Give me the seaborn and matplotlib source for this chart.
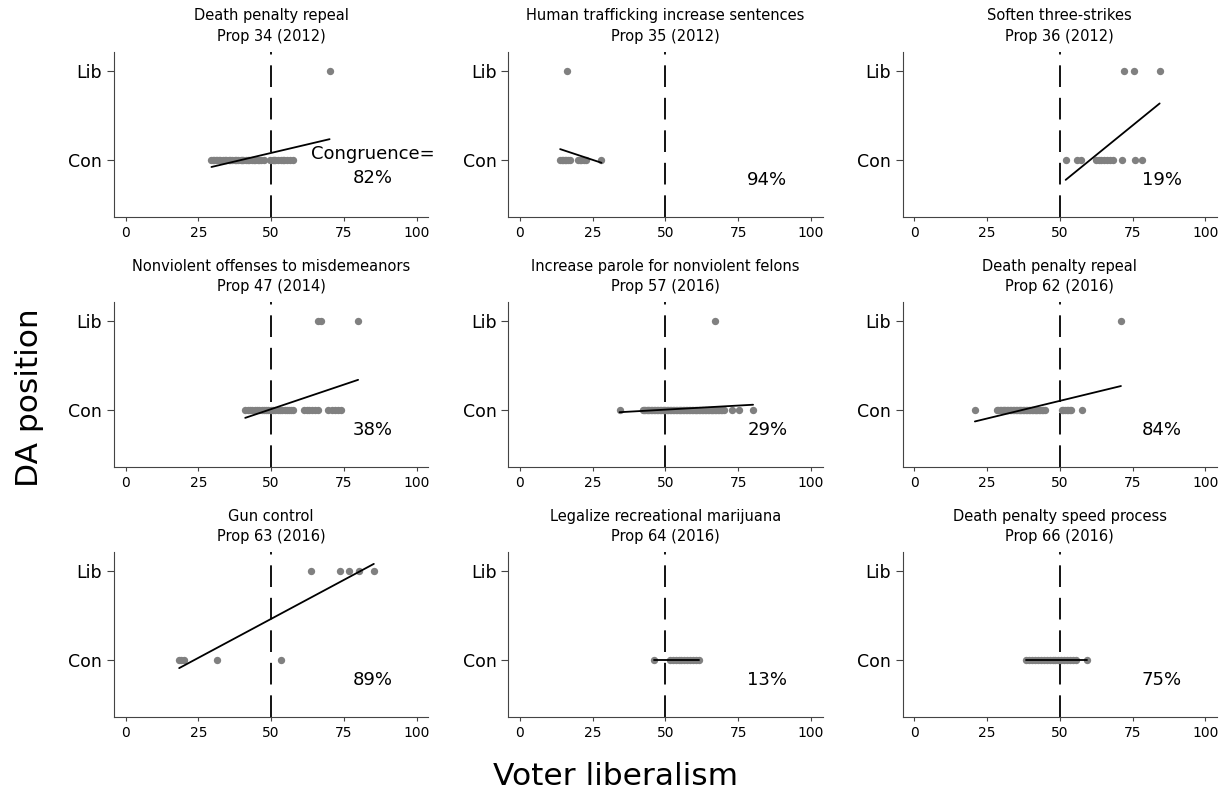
import pandas as pd
import matplotlib.pyplot as plt
import seaborn as sns

titles = ['Death penalty repeal\nProp 34 (2012)',
          'Human trafficking increase sentences\nProp 35 (2012)',
          'Soften three-strikes\nProp 36 (2012)',
          'Nonviolent offenses to misdemeanors\nProp 47 (2014)',
          'Increase parole for nonviolent felons\nProp 57 (2016)',
          'Death penalty repeal\nProp 62 (2016)',
          'Gun control\nProp 63 (2016)',
          'Legalize recreational marijuana\nProp 64 (2016)',
          'Death penalty speed process\nProp 66 (2016)']

congruence = ['82%', '94%', '19%', '38%', '29%', '84%', '89%', '13%', '75%']

# voter liberalism of counties whose DA took the conservative / liberal side
con_x = [
    [29.5, 30.0, 30.5, 31.0, 31.5, 32.0, 32.5, 33.5, 34.0, 34.5, 35.5, 36.0, 36.5, 37.5,
     38.0, 38.5, 39.5, 40.0, 40.5, 41.5, 42.0, 42.5, 43.5, 44.0, 44.5, 45.5, 46.0, 46.5,
     47.5, 49.5, 50.5, 51.0, 51.5, 52.5, 53.5, 54.0, 54.5, 55.5, 56.5, 57.5],
    [13.8, 14.3, 14.8, 15.3, 15.8, 16.5, 17.1, 20.0, 20.5, 21.0, 22.0, 22.7, 28.0],
    [52.0, 55.9, 57.2, 62.3, 63.3, 64.3, 65.3, 66.3, 67.3, 68.4, 71.5, 75.9, 78.2],
    [41.1, 41.9, 42.7, 43.5, 44.3, 45.1, 45.9, 46.7, 47.5, 48.3, 49.1, 49.9, 50.7,
     51.5, 52.3, 53.1, 53.9, 54.7, 55.5, 56.3, 57.0, 57.6, 61.3, 62.2, 63.1, 64.0,
     65.0, 66.0, 69.7, 70.8, 71.9, 73.0, 73.9],
    [34.2, 42.2, 42.6, 43.0, 43.5, 44.0, 44.5, 45.0, 45.5, 46.0, 46.5, 47.0, 47.5, 48.0,
     48.5, 49.0, 49.5, 50.0, 50.5, 51.0, 51.5, 52.0, 52.5, 53.0, 53.5, 54.0, 54.5, 55.0,
     55.5, 56.0, 56.5, 57.0, 57.5, 58.0, 58.5, 59.0, 59.5, 60.0, 60.5, 61.0, 61.5, 62.0,
     62.5, 63.0, 63.5, 64.0, 64.5, 65.0, 65.5, 66.0, 66.5, 67.0, 67.5, 68.0, 68.5, 69.0,
     69.5, 70.1, 72.8, 75.1, 80.1],
    [20.8, 28.3, 28.8, 29.3, 29.8, 30.3, 30.8, 31.3, 31.8, 32.3, 32.8, 33.3, 33.8, 34.3,
     34.8, 35.3, 35.8, 36.3, 36.8, 37.3, 37.8, 38.3, 38.8, 39.3, 39.8, 40.3, 40.8, 41.3,
     41.8, 42.3, 42.8, 43.3, 43.8, 44.3, 45.0, 50.6, 51.2, 51.7, 52.3, 52.8, 53.4, 53.9, 57.5],
    [18.4, 19.0, 20.0, 31.5, 53.5],
    [45.9, 51.4, 52.5, 53.5, 54.5, 55.5, 56.5, 57.5, 58.5, 59.5, 60.5, 61.5],
    [38.3, 39.5, 40.5, 41.5, 42.5, 43.5, 44.5, 45.5, 46.5, 47.5, 48.5, 49.5, 50.5,
     51.5, 52.5, 53.5, 54.5, 55.6, 59.5],
]
lib_x = [
    [70.1],
    [16.1],
    [72.1, 75.6, 84.3],
    [66.2, 67.0, 79.9],
    [67.1],
    [71.0],
    [63.8, 73.8, 76.9, 80.2, 85.3],
    [],
    [],
]

sns.set_style('ticks')
plt.rcParams['font.family'] = ['DejaVu Sans']
plt.rcParams['text.color'] = 'black'
plt.rcParams['xtick.color'] = 'black'
plt.rcParams['ytick.color'] = 'black'
plt.rcParams['axes.labelcolor'] = 'black'

fig, axes = plt.subplots(3, 3, figsize=(12.31, 7.95), dpi=100)
plt.subplots_adjust(left=0.0926, right=0.9886, top=0.9346, bottom=0.098,
                    wspace=0.255, hspace=0.515)

for i, ax in enumerate(axes.flat):
    df = pd.DataFrame({'x': con_x[i] + lib_x[i],
                       'y': [0] * len(con_x[i]) + [1] * len(lib_x[i])})
    sns.regplot(data=df, x='x', y='y', ax=ax, ci=None, truncate=True,
                scatter_kws={'color': 'gray', 's': 28, 'alpha': 1, 'linewidths': 0},
                line_kws={'color': 'black', 'lw': 1.3})
    ax.axvline(50, color='black', ls=(0, (12, 6)), lw=1.3, zorder=0)
    ax.set_xlim(-4, 104)
    ax.set_ylim(-0.64, 1.21)
    ax.set_xticks([0, 25, 50, 75, 100])
    ax.set_yticks([0, 1])
    ax.set_yticklabels(['Con', 'Lib'])
    ax.tick_params(axis='x', labelsize=10, length=3, color='#444444')
    ax.tick_params(axis='y', labelsize=12.5, length=5, color='#444444')
    ax.set_xlabel('')
    ax.set_ylabel('')
    ax.set_title(titles[i], fontsize=10.5, pad=8, color='black', linespacing=1.45)
    for s in ['left', 'bottom']:
        ax.spines[s].set_color('#444444')
    sns.despine(ax=ax)
    if i == 0:
        ax.text(85, -0.07, 'Congruence=\n' + congruence[i], ha='center', va='center',
                fontsize=13, linespacing=1.4)
    else:
        ax.text(85, -0.22, congruence[i], ha='center', va='center', fontsize=13)

fig.supxlabel('Voter liberalism', fontsize=22.5, y=0.005)
fig.supylabel('DA position', fontsize=22.5, x=0.012)

plt.savefig('out.png', dpi=100)
